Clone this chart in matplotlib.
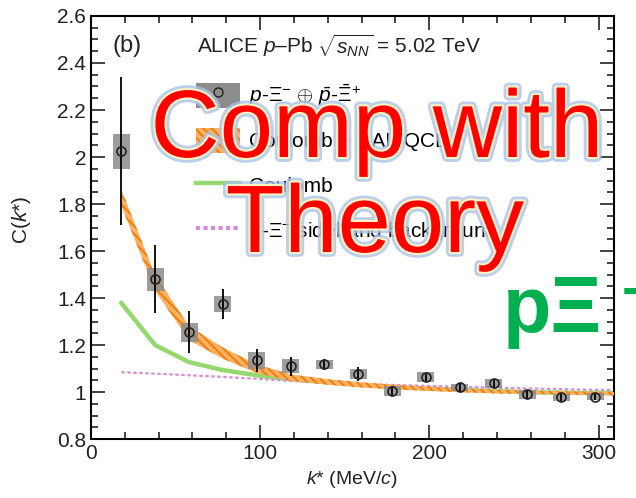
import numpy as np
import matplotlib
matplotlib.use("Agg")
import matplotlib.pyplot as plt
import matplotlib.patheffects as pe
from matplotlib.patches import Rectangle, Patch
from matplotlib.lines import Line2D
from matplotlib.ticker import MultipleLocator

plt.rcParams['font.family'] = ['Liberation Sans', 'DejaVu Sans']
plt.rcParams['mathtext.fontset'] = 'custom'
plt.rcParams['mathtext.rm'] = 'Liberation Sans'
plt.rcParams['mathtext.it'] = 'Liberation Sans:italic'
plt.rcParams['mathtext.bf'] = 'Liberation Sans:bold'
plt.rcParams['hatch.linewidth'] = 1.2

# data points (k* in MeV/c)
k_data = [18, 38, 58, 78, 98, 118, 138, 158, 178, 198, 218, 238, 258, 278, 298]
c_data = [2.025, 1.48, 1.255, 1.375, 1.135, 1.11, 1.118, 1.077, 1.005, 1.064,
          1.021, 1.038, 0.991, 0.979, 0.98]
stat_err = [0.315, 0.145, 0.09, 0.065, 0.05, 0.04, 0.025, 0.03, 0.02, 0.015,
            0.02, 0.02, 0.02, 0.015, 0.015]
syst_err = [0.075, 0.05, 0.04, 0.035, 0.035, 0.03, 0.02, 0.02, 0.02, 0.02,
            0.015, 0.02, 0.02, 0.015, 0.015]

# model curves
k_model = [18, 38, 58, 78, 98, 118, 138, 158, 178, 198, 218, 238, 258, 278, 298, 310]
hal_qcd = [1.826, 1.464, 1.251, 1.166, 1.10, 1.062, 1.045, 1.032, 1.022, 1.015,
           1.008, 1.003, 1.0, 0.997, 0.995, 0.994]
hal_width = [0.035, 0.033, 0.03, 0.024, 0.018, 0.014, 0.012, 0.011, 0.01, 0.009,
             0.008, 0.008, 0.007, 0.007, 0.007, 0.007]
coulomb = [1.379, 1.20, 1.128, 1.094, 1.072, 1.055, 1.043, 1.032, 1.023, 1.016,
           1.01, 1.005, 1.0, 0.998, 0.996, 0.995]
sideband = [1.085, 1.079, 1.072, 1.065, 1.057, 1.048, 1.042, 1.036, 1.031, 1.027,
            1.023, 1.019, 1.016, 1.013, 1.010, 1.009]

box_w = 10.0

fig = plt.figure(figsize=(6.36, 4.98), dpi=100)
ax = fig.add_axes([0.143, 0.118, 0.822, 0.850])

orange = '#f07800'
lo = np.array(hal_qcd) - np.array(hal_width)
hi = np.array(hal_qcd) + np.array(hal_width)
ax.fill_between(k_model, lo, hi, facecolor='#ffb060', edgecolor=orange,
                hatch='\\\\\\\\', linewidth=0, zorder=3)
ax.plot(k_model, coulomb, color='#94d86e', lw=3.2, zorder=2)
ax.plot(k_model, sideband, color='#d98ad4', lw=1.6, ls=(0, (1.5, 1.2)), zorder=2)

for k, c, s in zip(k_data, c_data, syst_err):
    ax.add_patch(Rectangle((k - box_w / 2, c - s), box_w, 2 * s,
                           facecolor='#8c8c8c', edgecolor='none', alpha=0.85, zorder=4))
ax.errorbar(k_data, c_data, yerr=stat_err, fmt='o', ms=6.5, mfc='none',
            mec='#222222', mew=1.2, ecolor='black', elinewidth=1.3, capsize=0, zorder=5)

ax.set_xlim(0, 309)
ax.set_ylim(0.8, 2.6)
ax.xaxis.set_major_locator(MultipleLocator(100))
ax.xaxis.set_minor_locator(MultipleLocator(20))
ax.yaxis.set_minor_locator(MultipleLocator(0.05))
ax.set_yticks([0.8, 1.0, 1.2, 1.4, 1.6, 1.8, 2.0, 2.2, 2.4, 2.6])
ax.set_yticklabels(['0.8', '1', '1.2', '1.4', '1.6', '1.8', '2', '2.2', '2.4', '2.6'])
ax.tick_params(which='both', direction='in', top=True, right=True, labelsize=15,
               width=1.2, colors='#222222')
ax.tick_params(which='major', length=10)
ax.tick_params(which='minor', length=5)
for sp in ax.spines.values():
    sp.set_linewidth(1.5)

ax.set_xlabel(r'$k$* (MeV/$c$)', fontsize=14, color='#222222')
ax.set_ylabel(r'C($k$*)', fontsize=15, color='#222222')
ax.yaxis.set_label_coords(-0.11, 0.518)

ax.text(0.042, 0.93, '(b)', transform=ax.transAxes, fontsize=17, va='center', color='#222222')
ax.text(0.203, 0.93, r'ALICE $p$–Pb $\sqrt{s_{NN}}$ = 5.02 TeV', transform=ax.transAxes,
        fontsize=15, va='center', color='#222222')

h_data = (Rectangle((0, 0), 1, 1, facecolor='#8c8c8c', edgecolor='none'),
          Line2D([], [], marker='o', ls='none', ms=6.5, mfc='none', mec='#222222'))
h_hal = Patch(facecolor='#ffb060', edgecolor=orange, hatch='\\\\\\\\', linewidth=0)
h_cou = Line2D([], [], color='#94d86e', lw=3.2)
h_sb = Line2D([], [], color='#d98ad4', lw=3, ls=(0, (1.0, 0.8)))
ax.legend([h_data, h_hal, h_cou, h_sb],
          [r'$p$-$\Xi^{-}$ $\oplus$ $\bar{p}$-$\bar{\Xi}^{+}$', 'Coulomb + HAL-QCD',
           'Coulomb', r'$p$-$\Xi^{-}$ sideband background'],
          loc='upper left', bbox_to_anchor=(0.185, 0.863), frameon=False, fontsize=15,
          borderaxespad=0, handlelength=2.1, handleheight=1.5, labelspacing=0.94,
          handletextpad=0.45)

# overlay captions
effects = [pe.Stroke(linewidth=7, foreground='#aac4e8', alpha=0.8),
           pe.Stroke(linewidth=3, foreground='#fff3c4'),
           pe.Normal()]
fig.text(377 / 636, 1 - 157 / 498, 'Comp with', fontsize=69, color='#ff0000',
         ha='center', va='baseline', path_effects=effects, zorder=10)
fig.text(375 / 636, 1 - 252 / 498, 'Theory', fontsize=69, color='#ff0000',
         ha='center', va='baseline', path_effects=effects, zorder=10)
fig.text(503 / 636, 1 - 332 / 498, 'pΞ', fontsize=57, color='#00b050',
         fontweight='bold', ha='left', va='baseline', zorder=10)
fig.text(622 / 636, 1 - 310 / 498, '−', fontsize=40, color='#00b050',
         fontweight='bold', ha='left', va='baseline', zorder=10)

fig.savefig('out.png', dpi=100)
